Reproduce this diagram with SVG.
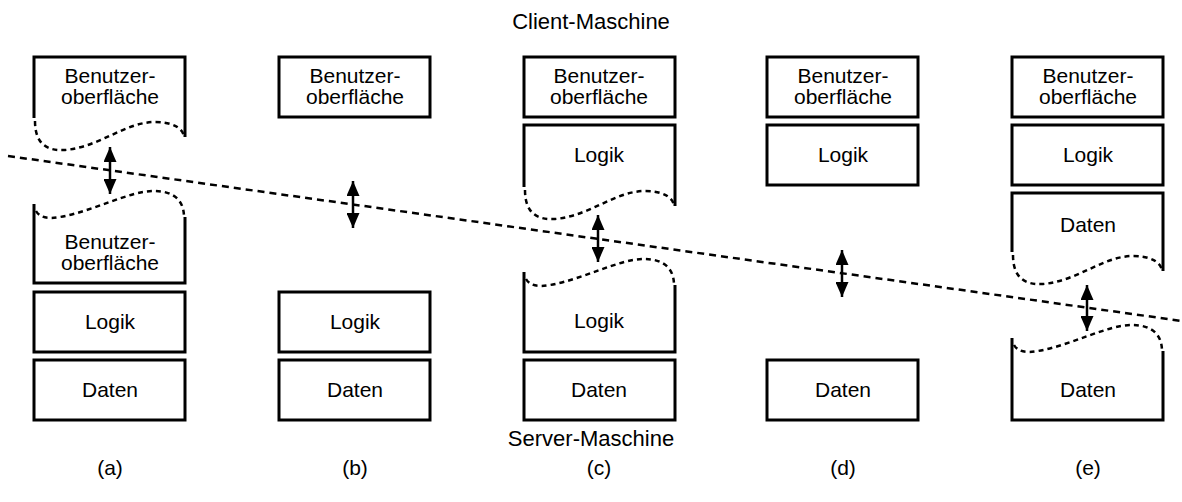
<svg xmlns="http://www.w3.org/2000/svg" width="1182" height="502" viewBox="0 0 1182 502">
<style>
.box{fill:none;stroke:#000;stroke-width:3;stroke-linejoin:miter}
.wave{fill:none;stroke:#000;stroke-width:2.5;stroke-dasharray:5 4}
.cut{fill:none;stroke:#000;stroke-width:2.5;stroke-dasharray:7 5}
.arr{stroke:#000;stroke-width:2.5;marker-start:url(#ah);marker-end:url(#ah)}
text{font-family:"Liberation Sans",Arial,sans-serif;font-size:21px;fill:#000;text-anchor:middle}
.big{font-size:22px}
</style>
<defs>
<marker id="ah" viewBox="0 0 15 13" refX="15" refY="6.5" markerWidth="15" markerHeight="13" markerUnits="userSpaceOnUse" orient="auto-start-reverse">
<path d="M0,0 L15,6.5 L0,13 Z" fill="#000"/>
</marker>
</defs>
<rect width="1182" height="502" fill="#fff"/>
<text class="big" x="591" y="29">Client-Maschine</text>
<text class="big" x="591" y="446">Server-Maschine</text>
<g id="labels">
<text x="110" y="475">(a)</text>
<text x="355" y="475">(b)</text>
<text x="599" y="475">(c)</text>
<text x="843" y="475">(d)</text>
<text x="1088" y="475">(e)</text>
</g>

<!-- column a -->
<g id="a-ui-client">
<path class="box" d="M34,118 V57 H185 V137"/>
<path class="wave" d="M35,121 C35,145 48,151 65,150 C100,147 125,122 155,122 C172,122 184,128 184,138"/>
<text x="110" y="83">Benutzer-</text>
<text x="110" y="104">oberfläche</text>
</g>
<g id="a-ui-server">
<path class="box" d="M34,204 V283 H185 V217"/>
<path class="wave" d="M36,211 C40,218 48,219 60,217 C94,211 129,191 154,191 C172,191 184,199 184,217"/>
<text x="110" y="249">Benutzer-</text>
<text x="110" y="270">oberfläche</text>
</g>
<g id="a-logik"><rect class="box" x="34" y="292" width="151" height="60"/><text x="110" y="329">Logik</text></g>
<g id="a-daten"><rect class="box" x="34" y="360" width="151" height="60"/><text x="110" y="397">Daten</text></g>

<!-- column b -->
<g id="b-ui"><rect class="box" x="279" y="57" width="151" height="60"/><text x="355" y="83">Benutzer-</text><text x="355" y="104">oberfläche</text></g>
<g id="b-logik"><rect class="box" x="279" y="292" width="151" height="60"/><text x="355" y="329">Logik</text></g>
<g id="b-daten"><rect class="box" x="279" y="360" width="151" height="60"/><text x="355" y="397">Daten</text></g>

<!-- column c -->
<g id="c-ui"><rect class="box" x="524" y="57" width="151" height="60"/><text x="599" y="83">Benutzer-</text><text x="599" y="104">oberfläche</text></g>
<g id="c-logik-client">
<path class="box" d="M524,187 V125 H675 V206"/>
<path class="wave" d="M525,190 C525,214 538,220 555,219 C590,216 615,191 645,191 C662,191 674,197 674,207"/>
<text x="599" y="162">Logik</text>
</g>
<g id="c-logik-server">
<path class="box" d="M524,272 V352 H675 V285"/>
<path class="wave" d="M526,279 C530,286 538,287 550,285 C584,279 619,259 644,259 C662,259 674,267 674,285"/>
<text x="599" y="328">Logik</text>
</g>
<g id="c-daten"><rect class="box" x="524" y="360" width="151" height="60"/><text x="599" y="397">Daten</text></g>

<!-- column d -->
<g id="d-ui"><rect class="box" x="767" y="57" width="151" height="60"/><text x="843" y="83">Benutzer-</text><text x="843" y="104">oberfläche</text></g>
<g id="d-logik"><rect class="box" x="767" y="125" width="151" height="60"/><text x="843" y="162">Logik</text></g>
<g id="d-daten"><rect class="box" x="767" y="360" width="151" height="60"/><text x="843" y="397">Daten</text></g>

<!-- column e -->
<g id="e-ui"><rect class="box" x="1012" y="57" width="151" height="60"/><text x="1088" y="83">Benutzer-</text><text x="1088" y="104">oberfläche</text></g>
<g id="e-logik"><rect class="box" x="1012" y="125" width="151" height="60"/><text x="1088" y="162">Logik</text></g>
<g id="e-daten-client">
<path class="box" d="M1012,252 V193 H1163 V271"/>
<path class="wave" d="M1013,255 C1013,279 1026,285 1043,284 C1078,281 1103,256 1133,256 C1150,256 1162,262 1162,272"/>
<text x="1088" y="232">Daten</text>
</g>
<g id="e-daten-server">
<path class="box" d="M1012,338 V420 H1163 V351"/>
<path class="wave" d="M1014,345 C1018,352 1026,353 1038,351 C1072,345 1107,325 1132,325 C1150,325 1162,333 1162,351"/>
<text x="1088" y="397">Daten</text>
</g>

<g id="connectors">
<line class="cut" x1="8" y1="156" x2="1182" y2="321"/>
<line class="arr" x1="110" y1="147" x2="110" y2="194"/>
<line class="arr" x1="353" y1="181" x2="353" y2="228"/>
<line class="arr" x1="598" y1="215" x2="598" y2="262"/>
<line class="arr" x1="842" y1="250" x2="842" y2="297"/>
<line class="arr" x1="1087" y1="285" x2="1087" y2="331"/>
</g>
</svg>
